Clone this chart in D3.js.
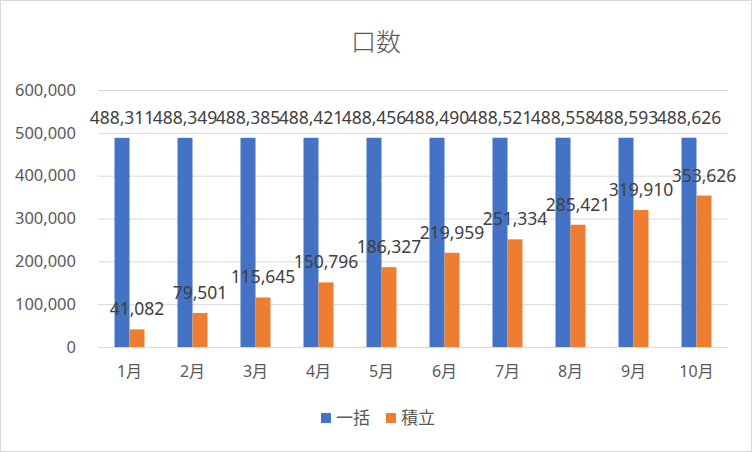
<!DOCTYPE html>
<html>
<head>
<meta charset="utf-8">
<script src="https://cdn.jsdelivr.net/npm/d3@7"></script>
<style>
  body { margin: 0; background: #fff; }
  svg { display: block; }
</style>
</head>
<body>
<svg id="chart"></svg>
<script>
const months = ["1月", "2月", "3月", "4月", "5月", "6月", "7月", "8月", "9月", "10月"]
const ikkatsu = [488311, 488349, 488385, 488421, 488456, 488490, 488521, 488558, 488593, 488626]
const tsumitate = [41082, 79501, 115645, 150796, 186327, 219959, 251334, 285421, 319910, 353626]
const yTicks = [0, 100000, 200000, 300000, 400000, 500000, 600000]
const seriesNames = ["一括", "積立"]
const colors = ["#4472C4", "#ED7D31"]

const width = 752, height = 452
const margin = {top: 90, right: 24, bottom: 105, left: 98}
const font = "'Noto Sans', 'Noto Sans CJK JP', sans-serif"
const fmt = d3.format(",")

const svg = d3.select("#chart")
              .attr("width", width)
              .attr("height", height)

svg.append("rect")
   .attr("x", 0.5).attr("y", 0.5)
   .attr("width", width - 1).attr("height", height - 1)
   .attr("fill", "#fff")
   .attr("stroke", "#d9d9d9")

const x = d3.scaleBand()
            .domain(months)
            .range([margin.left, width - margin.right])
const inner = d3.scaleBand()
                .domain(seriesNames)
                .range([0, 30])
const y = d3.scaleLinear()
            .domain([0, 600000])
            .range([height - margin.bottom, margin.top])

// gridlines + y labels
const yAxis = svg.append("g")
                 .attr("transform", `translate(${margin.left},0)`)
                 .call(d3.axisLeft(y).tickValues(yTicks).tickFormat(fmt)
                         .tickSize(-(width - margin.left - margin.right)).tickPadding(22))
yAxis.select(".domain").remove()
yAxis.selectAll("line").attr("stroke", "#d9d9d9")
yAxis.selectAll("text")
     .attr("fill", "#595959")
     .style("font-family", font)
     .style("font-size", "16.5px")

// x labels
const xAxis = svg.append("g")
                 .attr("transform", `translate(0,${y(0)})`)
                 .call(d3.axisBottom(x).tickSize(0).tickPadding(19))
xAxis.select(".domain").remove()
xAxis.selectAll("text")
     .attr("fill", "#595959")
     .style("font-family", font)
     .style("font-size", "16px")

const series = [ikkatsu, tsumitate]

series.forEach((vals, s) => {
  const left = m => x(m) + x.bandwidth() / 2 - 15 + inner(seriesNames[s])
  svg.append("g").selectAll("rect")
     .data(months)
     .join("rect")
     .attr("x", m => left(m))
     .attr("width", inner.bandwidth())
     .attr("y", (m, i) => y(vals[i]))
     .attr("height", (m, i) => y(0) - y(vals[i]))
     .attr("fill", colors[s])

  svg.append("g").selectAll("text")
     .data(months)
     .join("text")
     .attr("x", m => left(m) + inner.bandwidth() / 2)
     .attr("y", (m, i) => y(vals[i]) - 14)
     .attr("text-anchor", "middle")
     .attr("fill", "#404040")
     .style("font-family", font)
     .style("font-size", "17.5px")
     .text((m, i) => fmt(vals[i]))
})

// title
svg.append("text")
   .attr("x", width / 2)
   .attr("y", 51)
   .attr("text-anchor", "middle")
   .attr("fill", "#595959")
   .style("font-family", font)
   .style("font-size", "25px")
   .style("font-weight", "300")
   .text("口数")

// legend
const legend = svg.append("g")
const legendX = [321, 386]
seriesNames.forEach((name, i) => {
  legend.append("rect")
        .attr("x", legendX[i]).attr("y", 413)
        .attr("width", 10).attr("height", 10)
        .attr("fill", colors[i])
  legend.append("text")
        .attr("x", legendX[i] + 15)
        .attr("y", 424)
        .attr("fill", "#595959")
        .style("font-family", font)
        .style("font-size", "17px")
        .text(name)
})
</script>
</body>
</html>
